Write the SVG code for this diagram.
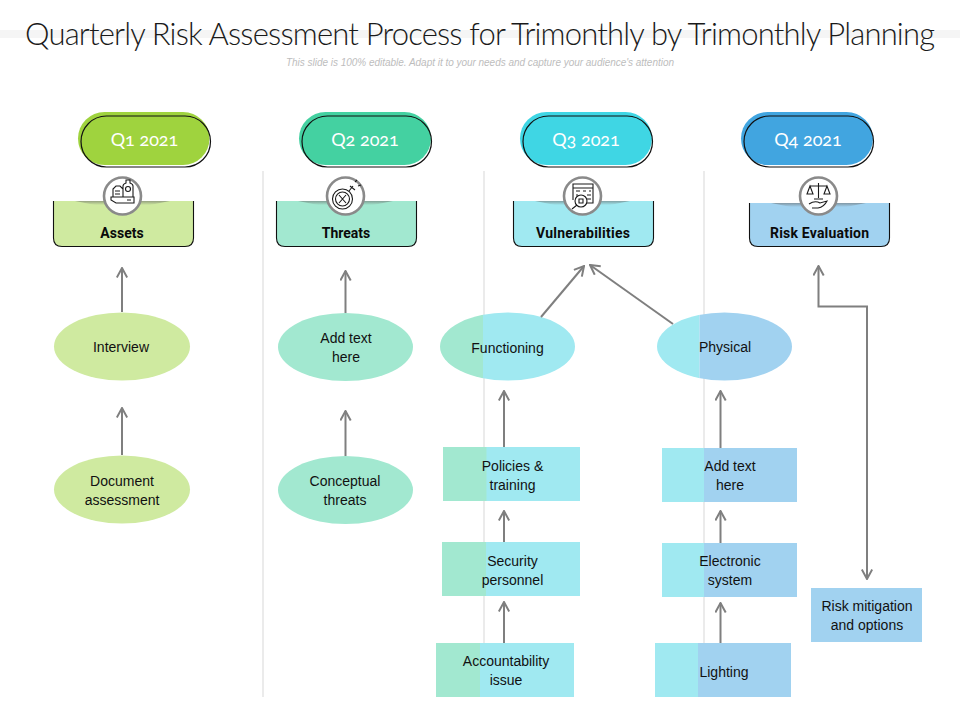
<svg xmlns="http://www.w3.org/2000/svg" width="960" height="720" viewBox="0 0 960 720">
<style>
.t{font-family:"Liberation Sans",Arial,sans-serif;font-size:14px;fill:#111;text-anchor:middle}
.h{font-family:Roboto,"Liberation Sans",sans-serif;font-size:14px;font-weight:700;fill:#0a0a0a;text-anchor:middle}
.q{font-family:Lato,"Open Sans",sans-serif;font-size:18px;font-weight:400;fill:#fff;text-anchor:middle;font-feature-settings:"onum" 1}
.o{fill:none;stroke:#111;stroke-width:1.2}
.b{fill:none;stroke:#111;stroke-width:1.1}
.c{fill:#fff;stroke:#8a8a8a;stroke-width:2.6}
.i{fill:none;stroke:#1a1a1a;stroke-width:1.1}
.g{fill:url(#sh)}
.div{stroke:#dedede;stroke-width:1.2}
.a{fill:none;stroke:#7f7f7f;stroke-width:2;marker-end:url(#ah)}
.lime{fill:#cfeaa0}.teal{fill:#a2e8d0}.cyan{fill:#a0e9f1}.blue{fill:#a1d2f0}
</style>
<defs>
<marker id="ah" viewBox="0 0 12 12" refX="11" refY="6" markerWidth="12" markerHeight="12" markerUnits="userSpaceOnUse" orient="auto-start-reverse">
<path d="M1.5 0.8L11 6L1.5 11.2" fill="none" stroke="#7f7f7f" stroke-width="2"/>
</marker>
<linearGradient id="sh" x1="0" x2="0" y1="0" y2="1">
<stop offset="0" stop-color="#666" stop-opacity=".55"/><stop offset="1" stop-color="#666" stop-opacity="0"/>
</linearGradient>
<clipPath id="ef"><ellipse cx="507.500" cy="346.500" rx="67.500" ry="34"/></clipPath>
<clipPath id="ep"><ellipse cx="724.500" cy="346.500" rx="67.500" ry="34"/></clipPath>
</defs>
<rect width="960" height="720" fill="#fff"/>
<rect id="band" x="0" y="30" width="960" height="8" fill="#f5f5f5"/>
<text id="title" x="480" y="45" text-anchor="middle" textLength="910" lengthAdjust="spacing" style="font-family:Lato,'Open Sans',sans-serif;font-weight:300;font-size:31px;fill:#1a1a1a">Quarterly Risk Assessment Process for Trimonthly by Trimonthly Planning</text>
<text id="subtitle" x="480" y="66" text-anchor="middle" textLength="388" style="font-family:'Liberation Sans',Arial,sans-serif;font-style:italic;font-size:10px;fill:#bdbdbd">This slide is 100% editable. Adapt it to your needs and capture your audience's attention</text>

<g id="dividers">
<line class="div" x1="263" y1="171" x2="263" y2="697"/>
<line class="div" x1="484" y1="171" x2="484" y2="697"/>
<line class="div" x1="704" y1="171" x2="704" y2="697"/>
</g>

<g id="q1"><rect x="78" y="112" width="131.500" height="53" rx="26.500" fill="#9fd33e"/><rect class="o" x="81" y="116" width="129.500" height="51" rx="25.500"/><text class="q" x="144.500" y="146">Q1 2021</text></g>
<g id="q2"><rect x="299" y="112" width="132" height="53" rx="26.500" fill="#44d1a1"/><rect class="o" x="302" y="116" width="129.500" height="51" rx="25.500"/><text class="q" x="365" y="146">Q2 2021</text></g>
<g id="q3"><rect x="520" y="112" width="132" height="53" rx="26.500" fill="#3fd6e4"/><rect class="o" x="523" y="116" width="129.500" height="51" rx="25.500"/><text class="q" x="586" y="146">Q3 2021</text></g>
<g id="q4"><rect x="741" y="112" width="132" height="53" rx="26.500" fill="#41a5e0"/><rect class="o" x="744" y="116" width="129.500" height="51" rx="25.500"/><text class="q" x="808" y="146">Q4 2021</text></g>

<g id="assets">
<path class="lime" d="M53.500 201H193.500V238Q193.500 246.500 185 246.500H62Q53.500 246.500 53.500 238Z"/>
<path class="b" d="M53.500 201V238Q53.500 246.500 62 246.500H185Q193.500 246.500 193.500 238V201"/>
<path class="g" d="M75 201H170L150 205H95Z"/>
<circle class="c" cx="122.500" cy="196" r="18.500"/>
<path class="i" d="M113 197V189L116 186H120L123 189V197ZM123 197V186Q123 184 126 183V180H130V183Q133 184 133 186V197M111 197H134V203H116L111 200ZM115 191H120M115 194H120M127 200H131"/><circle class="i" cx="128" cy="189" r="2.500"/>
<text class="h" x="122" y="238">Assets</text>
</g>
<g id="threats">
<path class="teal" d="M276.500 201H416.500V238Q416.500 246.500 408 246.500H285Q276.500 246.500 276.500 238Z"/>
<path class="b" d="M276.500 201V238Q276.500 246.500 285 246.500H408Q416.500 246.500 416.500 238V201"/>
<path class="g" d="M298 201H393L373 205H318Z"/>
<circle class="c" cx="345.500" cy="196" r="18.500"/>
<circle class="i" cx="342.500" cy="199" r="10"/><circle class="i" cx="342.500" cy="199" r="7"/>
<path class="i" d="M339 195L346 203M346 195L339 203M349 191L353 186M350 186L355 190M355 182L357 180M358 186L361 185"/>
<text class="h" x="346" y="238">Threats</text>
</g>
<g id="vulnerabilities">
<path class="cyan" d="M513.500 201H653.500V238Q653.500 246.500 645 246.500H522Q513.500 246.500 513.500 238Z"/>
<path class="b" d="M513.500 201V238Q513.500 246.500 522 246.500H645Q653.500 246.500 653.500 238V201"/>
<path class="g" d="M535 201H630L610 205H555Z"/>
<circle class="c" cx="582.500" cy="196" r="18.500"/>
<path class="i" d="M573 200V184H593V203H587M573 188H593M576 191H580M583 191H586M589 191H591M576 195H578M587 195H591M587 199H591"/>
<circle class="i" cx="581" cy="201" r="6"/><path class="i" d="M577 205L572 209M579 199H583V203H579Z"/>
<text class="h" x="583" y="238" textLength="94">Vulnerabilities</text>
</g>
<g id="risk-evaluation">
<path class="blue" d="M749.500 203H889.500V238Q889.500 246.500 881 246.500H758Q749.500 246.500 749.500 238Z"/>
<path class="b" d="M749.500 203V238Q749.500 246.500 758 246.500H881Q889.500 246.500 889.500 238V203"/>
<path class="g" d="M771 203H866L846 207H791Z"/>
<circle class="c" cx="818.500" cy="196" r="18.500"/>
<path class="i" d="M818.500 183V198M810 186H827M810 186L807 194H813ZM827 186L824 194H830ZM814 199H823M809 204Q815 200 820 203L827 201Q824 207 818 208H812"/>
<text class="h" x="819.500" y="238" textLength="99">Risk Evaluation</text>
</g>

<g id="interview"><ellipse class="lime" cx="122" cy="346.500" rx="68" ry="34"/><text class="t" x="121" y="352">Interview</text></g>
<g id="document-assessment"><ellipse class="lime" cx="122" cy="489.500" rx="68" ry="34"/><text class="t" x="122" y="486">Document</text><text class="t" x="122" y="505">assessment</text></g>
<g id="add-text-threat"><ellipse class="teal" cx="345.500" cy="347" rx="67.500" ry="34"/><text class="t" x="346" y="343">Add text</text><text class="t" x="346" y="362">here</text></g>
<g id="conceptual-threats"><ellipse class="teal" cx="345.500" cy="490" rx="67.500" ry="34"/><text class="t" x="345" y="486">Conceptual</text><text class="t" x="345" y="505">threats</text></g>

<g id="functioning"><g clip-path="url(#ef)"><rect class="teal" x="440" y="312" width="43" height="70"/><rect class="cyan" x="483" y="312" width="93" height="70"/></g><text class="t" x="507.500" y="353">Functioning</text></g>
<g id="physical"><g clip-path="url(#ep)"><rect class="cyan" x="657" y="312" width="42.500" height="70"/><rect class="blue" x="699.500" y="312" width="93" height="70"/></g><text class="t" x="725" y="352">Physical</text></g>

<g id="policies"><rect class="teal" x="443" y="447" width="44" height="54"/><rect class="cyan" x="486.500" y="447" width="93.500" height="54"/><text class="t" x="512.500" y="471">Policies &amp;</text><text class="t" x="512.500" y="490">training</text></g>
<g id="security"><rect class="teal" x="442" y="542" width="44.500" height="54"/><rect class="cyan" x="486" y="542" width="94" height="54"/><text class="t" x="512.500" y="566">Security</text><text class="t" x="512.500" y="585">personnel</text></g>
<g id="accountability"><rect class="teal" x="436" y="643" width="44.500" height="54"/><rect class="cyan" x="480" y="643" width="94" height="54"/><text class="t" x="506" y="666">Accountability</text><text class="t" x="506" y="685">issue</text></g>

<g id="add-text-phys"><rect class="cyan" x="662" y="448" width="42.500" height="54"/><rect class="blue" x="704" y="448" width="93" height="54"/><text class="t" x="730" y="471">Add text</text><text class="t" x="730" y="490">here</text></g>
<g id="electronic"><rect class="cyan" x="662" y="543" width="42.500" height="54"/><rect class="blue" x="704" y="543" width="93" height="54"/><text class="t" x="730" y="566">Electronic</text><text class="t" x="730" y="585">system</text></g>
<g id="lighting"><rect class="cyan" x="655" y="643" width="43.500" height="54"/><rect class="blue" x="698" y="643" width="93" height="54"/><text class="t" x="724" y="677">Lighting</text></g>
<g id="risk-mitigation"><rect class="blue" x="811" y="588" width="111" height="54"/><text class="t" x="867" y="611">Risk mitigation</text><text class="t" x="867" y="630">and options</text></g>

<g id="connectors">
<path class="a" d="M122 312V268"/>
<path class="a" d="M122 455V408"/>
<path class="a" d="M345.500 313V271"/>
<path class="a" d="M345.500 456V411"/>
<path class="a" d="M504 447V391"/>
<path class="a" d="M504 542V511"/>
<path class="a" d="M504 643V602"/>
<path class="a" d="M720.500 448V391"/>
<path class="a" d="M720.500 543V511"/>
<path class="a" d="M720.500 643V603"/>
<path class="a" d="M541 317L584 266"/>
<path class="a" d="M673 324L590 265"/>
<path class="a" d="M818.500 266V306.500H867V579" style="marker-start:url(#ah)"/>
</g>
</svg>
